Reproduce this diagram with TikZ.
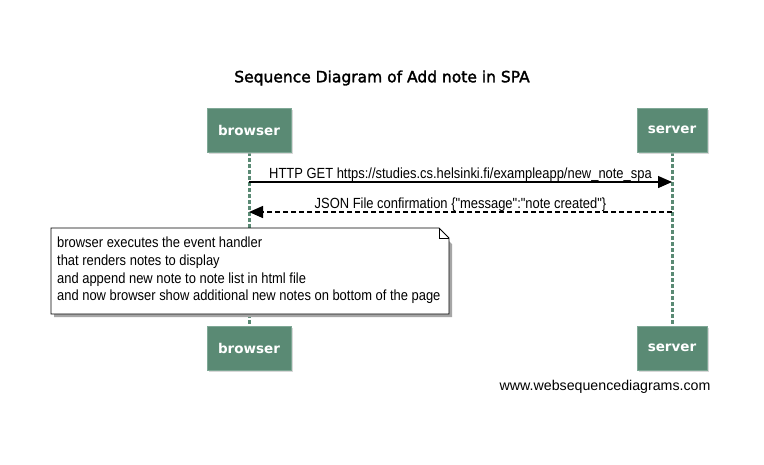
\documentclass[tikz,border=0pt]{standalone}
\usepackage{fontspec}
\setmainfont{Liberation Sans}
\newfontfamily\titlefont[FakeBold=2]{DejaVu Sans}
\newfontfamily\actorfont{DejaVu Sans}
\newfontfamily\msgfont[FakeStretch=0.88]{Liberation Sans}
\usetikzlibrary{arrows.meta,shadows}
\definecolor{actor}{HTML}{5A8A74}
\definecolor{actorborder}{HTML}{7FA896}
\tikzset{
  actorbox/.style={draw=actorborder, line width=0.8pt, fill=actor, text=white,
    minimum height=44pt, inner sep=0pt, font=\actorfont\bfseries\fontsize{13.5}{16}\selectfont,
    drop shadow={shadow xshift=2pt, shadow yshift=-2pt, fill=black!25, opacity=0.6}},
  lifeline/.style={draw=actor, line width=3pt, dash pattern=on 4pt off 2pt},
  msg/.style={line width=1.4pt, -{Triangle[length=14pt,width=12pt]}},
  msglabel/.style={font=\msgfont\fontsize{14.7}{17}\selectfont, inner sep=1pt, anchor=south},
  notetext/.style={font=\msgfont\fontsize{14.7}{17.7}\selectfont, align=left, anchor=north west, inner sep=0pt}
}
\begin{document}
\begin{tikzpicture}[x=1pt,y=-1pt]
\useasboundingbox (0,0) rectangle (764,464);
\fill[white] (0,0) rectangle (764,464);
\node[font=\titlefont\fontsize{15.5}{18}\selectfont] (title) at (382,78) {Sequence Diagram of Add note in SPA};
% lifelines
\coordinate (bt) at (249,152);
\coordinate (bb) at (249,326);
\coordinate (st) at (672,152);
\coordinate (sb) at (672,326);
\draw[lifeline] (bt) -- (bb);
\draw[lifeline] (st) -- (sb);
% actors
\node[actorbox, minimum width=84pt] (browserTop) at (249,130) {browser};
\node[actorbox, minimum width=70pt] (serverTop) at (672,130) {server};
\node[actorbox, minimum width=84pt] (browserBot) at (249,348) {browser};
\node[actorbox, minimum width=70pt] (serverBot) at (672,348) {server};
% messages
\coordinate (m1s) at (249,182);
\coordinate (m1e) at (672,182);
\draw[msg] (m1s) -- (m1e) node[msglabel, midway, above=-1pt] (m1l) {HTTP GET https://studies.cs.helsinki.fi/exampleapp/new\_note\_spa};
\coordinate (m2s) at (672,212);
\coordinate (m2e) at (249,212);
\draw[msg, dash pattern=on 5pt off 3pt] (m2s) -- (m2e) node[msglabel, midway, above=-1pt] (m2l) {JSON File confirmation \{"message":"note created"\}};
% note
\fill[black!35] (54,231) -- (439,231) -- (452,244) -- (452,317) -- (54,317) -- cycle;
\draw[line width=0.8pt, fill=white] (51,228) -- (439,228) -- (449,238) -- (449,314) -- (51,314) -- cycle;
\draw[line width=0.8pt] (439,228) -- (439,238) -- (449,238);
\node[notetext] (note) at (57,237) {browser executes the event handler\\that renders notes to display\\and append new note to note list in html file\\and now browser show additional new notes on bottom of the page};
% footer
\node[font=\fontsize{14.2}{16}\selectfont, anchor=east] (footer) at (714,387) {www.websequencediagrams.com};
\end{tikzpicture}
\end{document}
